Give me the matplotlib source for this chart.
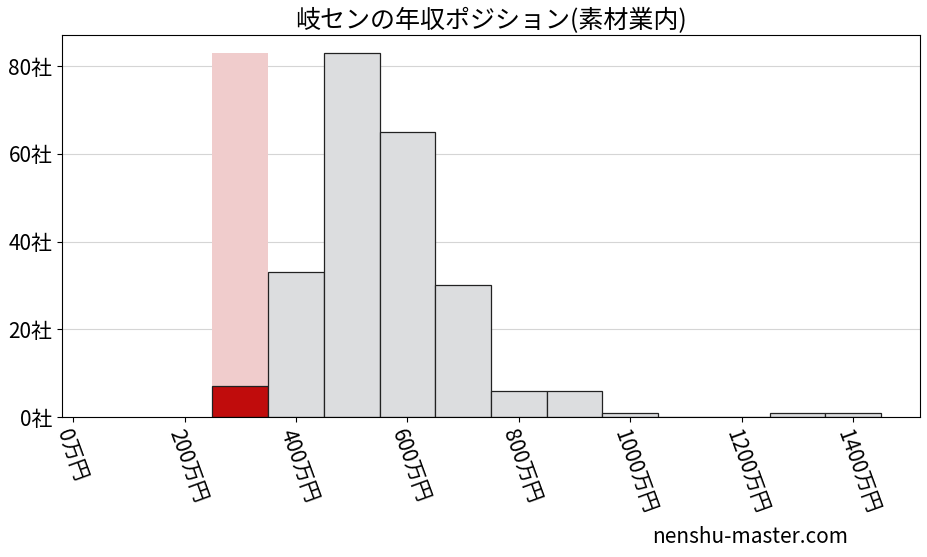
import matplotlib
matplotlib.use("Agg")
from matplotlib import pyplot as plt

plt.rcParams['font.family'] = ['Noto Sans CJK JP', 'DejaVu Sans']

# ビンの中心(万円)と社数
bin_centers = [300, 400, 500, 600, 700, 800, 900, 1000, 1100, 1200, 1300, 1400]
counts = [7, 33, 83, 65, 30, 6, 6, 1, 0, 0, 1, 1]
highlight_center = 300
highlight_height = 83
xticks = [0, 200, 400, 600, 800, 1000, 1200, 1400]
yticks = [0, 20, 40, 60, 80]
title = '岐センの年収ポジション(素材業内)'

fig = plt.figure(figsize=(9.27, 5.57), dpi=100)
ax = fig.add_axes([62 / 927, 1 - 417 / 557, (920 - 62) / 927, (417 - 35) / 557])

ax.bar([highlight_center], [highlight_height], width=100, color='#f0cccc', zorder=1)
colors = ['#c00c0c' if c == highlight_center else '#dcdddf' for c in bin_centers]
ax.bar(bin_centers, counts, width=100, color=colors, edgecolor='#222222', linewidth=0.9, zorder=2)

ax.set_xlim(-20, 1520)
ax.set_ylim(0, 87.1)
ax.set_xticks(xticks)
ax.set_xticklabels([f'{v}万円' for v in xticks], rotation=-70, ha='left', va='top',
                   rotation_mode='anchor', fontsize=15)
ax.set_yticks(yticks)
ax.set_yticklabels([f'{v}社' for v in yticks], fontsize=15)
ax.yaxis.grid(True, color='#d5d5d5', linewidth=0.8, zorder=0)
ax.set_axisbelow(True)
ax.set_title(title, fontsize=18, pad=5)

fig.text(848 / 927, 1 - 537 / 557, 'nenshu-master.com', ha='right', va='center', fontsize=15)

fig.savefig('out.png', dpi=100)
